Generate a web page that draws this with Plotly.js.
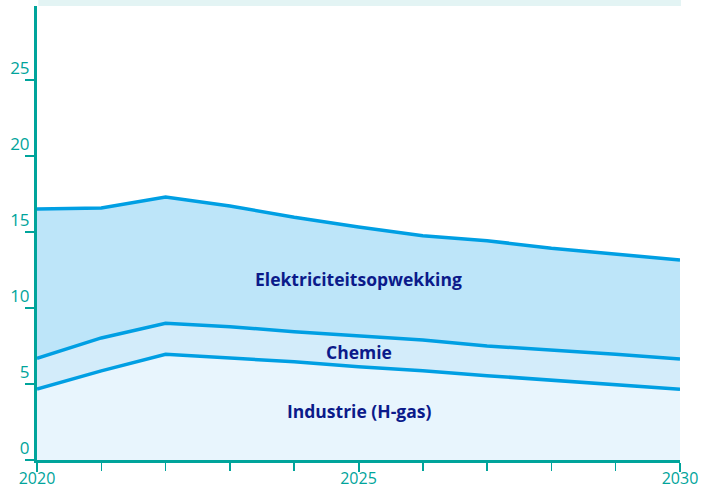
<!DOCTYPE html>
<html>
<head>
<meta charset="utf-8">
<script src="https://cdn.plot.ly/plotly-3.0.1.min.js"></script>
<style>html,body{margin:0;padding:0;background:#fff;}#chart{width:712px;height:489px;}</style>
</head>
<body>
<div id="chart"></div>
<script>
const years = [2020, 2021, 2022, 2023, 2024, 2025, 2026, 2027, 2028, 2029, 2030];
const industrie = [4.67, 5.86, 6.95, 6.73, 6.47, 6.14, 5.88, 5.55, 5.26, 4.93, 4.65];
const chemie = [2.02, 2.17, 2.04, 2.04, 1.97, 2.05, 2.01, 1.95, 1.98, 2.02, 1.99];
const elektriciteit = [9.82, 8.55, 8.31, 7.94, 7.53, 7.14, 6.87, 6.93, 6.69, 6.60, 6.52];
const seriesNames = ['Industrie (H-gas)', 'Chemie', 'Elektriciteitsopwekking'];
const labelY = [3.2, 7.1, 11.9];
const yTicks = [0, 5, 10, 15, 20, 25];
const xTicks = [2020, 2025, 2030];

const lineColor = '#009fe3';
const fills = ['#e8f5fd', '#d3ecfa', '#bde5f9'];
const teal = '#00a49b';
const navy = '#0b1a8a';

const values = [industrie, chemie, elektriciteit];
const traces = values.map((v, i) => ({
  x: years, y: v, type: 'scatter', mode: 'lines', stackgroup: 'one',
  name: seriesNames[i], fill: 'tonexty', fillcolor: fills[i],
  line: {color: lineColor, width: 3.5}, hoverinfo: 'skip'
}));

const annotations = seriesNames.map((n, i) => ({
  x: 2025, y: labelY[i], xref: 'x', yref: 'y', text: '<b>' + n + '</b>',
  showarrow: false, font: {family: 'Open Sans, sans-serif', size: 17.5, color: navy}
}));

const layout = {
  width: 712, height: 489,
  margin: {l: 37, r: 32, t: 6, b: 29},
  paper_bgcolor: '#ffffff', plot_bgcolor: '#ffffff',
  showlegend: false,
  font: {family: 'Open Sans, sans-serif', size: 16, color: teal},
  xaxis: {
    range: [2020, 2030], tickvals: xTicks, ticktext: xTicks.map(String),
    showgrid: false, zeroline: false, showline: true, linecolor: teal, linewidth: 3,
    ticks: 'outside', ticklen: 9, tickwidth: 2, tickcolor: teal,
    minor: {dtick: 1, tick0: 2020, ticks: 'outside', ticklen: 8, tickwidth: 1.5, tickcolor: teal, showgrid: false},
    ticklabelstandoff: -7,
    tickfont: {size: 16, color: teal}, fixedrange: true
  },
  yaxis: {
    range: [0, 29.87], tickvals: yTicks, ticktext: yTicks.map(String),
    showgrid: false, zeroline: false, showline: true, linecolor: teal, linewidth: 3,
    ticks: 'outside', ticklen: 9, tickwidth: 2.5, tickcolor: teal,
    ticklabelshift: -12, ticklabelstandoff: -8,
    tickfont: {size: 17, color: teal}, fixedrange: true
  },
  shapes: [{
    type: 'rect', xref: 'paper', yref: 'paper', x0: 0.002, x1: 1.0015, y0: 1, y1: 1.02,
    fillcolor: '#e3f4f4', line: {width: 0}, layer: 'below'
  }],
  annotations: annotations
};

Plotly.newPlot('chart', traces, layout, {displayModeBar: false, staticPlot: true});
</script>
</body>
</html>
